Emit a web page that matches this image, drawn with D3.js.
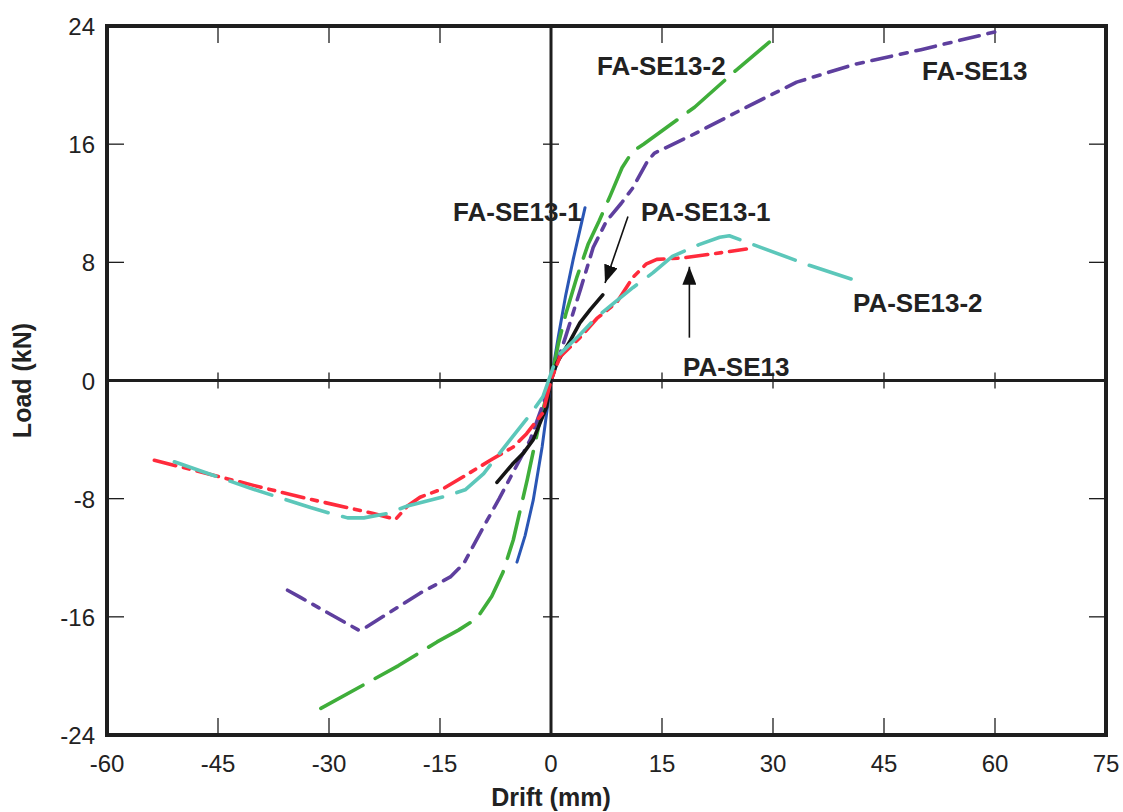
<!DOCTYPE html>
<html><head><meta charset="utf-8">
<script src="https://cdn.jsdelivr.net/npm/d3@7"></script>
<style>body{margin:0;background:#fff}svg{display:block}</style>
</head><body>
<svg id="c" width="1123" height="812"></svg>
<script>
const xTicks = [-60,-45,-30,-15,0,15,30,45,60,75];
const yTicks = [-24,-16,-8,0,8,16,24];

const faSe13_1 = [[-4.6,-12.3],[-3.5,-10.5],[-2.4,-8.1],[-1.2,-4.5],[0,0],[1,3],[2,5.8],[3,8.2],[4.6,11.7]];
const faSe13_2 = [[-31.1,-22.2],[-20.6,-19.3],[-15.4,-17.7],[-12.5,-16.9],[-10,-16.1],[-8,-14.6],[-6.5,-13],[-5.1,-10.8],[-3.2,-6.7],[-1.5,-2.7],[0,0],[1,2.5],[2,4.5],[3.5,7],[5,9.2],[6.5,10.8],[8,12.5],[9.6,14.4],[11,15.5],[12.5,16],[19.4,18.5],[25,21],[29.5,22.9]];
const faSe13 = [[-35.6,-14.2],[-33.8,-14.7],[-26,-16.9],[-25.3,-16.8],[-17.7,-14.4],[-13.6,-13.3],[-11.8,-12.4],[-9,-9.8],[-7,-8],[-5,-6.1],[-2.8,-4],[-1,-1.5],[0,0],[1,1.5],[2,3],[4,6.2],[5.7,9],[7.5,10.8],[9.5,12],[11,13],[13.1,14.9],[14,15.4],[19,16.6],[26,18.4],[33.2,20.2],[41,21.4],[50,22.4],[60,23.6]];
const paSe13_1 = [[-7.3,-6.9],[-5.1,-5.6],[-3.7,-4.9],[-2.4,-4],[-0.6,-1.8],[0,0],[0.8,1.2],[2.6,2.7],[3.9,3.9],[5.3,4.8],[7,5.8]];
const paSe13 = [[-53.6,-5.4],[-40.2,-7.1],[-32.9,-8],[-24,-9],[-21,-9.4],[-19.4,-8.5],[-17.7,-7.9],[-14.5,-7.3],[-11.8,-6.5],[-8.2,-5.4],[-5.1,-4.5],[-3.3,-3.6],[-1.1,-2.2],[0,0],[1.2,1.6],[3.9,2.9],[6.2,4.2],[8.9,5.3],[11.1,7],[12.9,7.9],[14.3,8.2],[17.8,8.3],[23.7,8.7],[26.4,8.9]];
const paSe13_2 = [[-50.9,-5.5],[-40.6,-7.3],[-32.5,-8.6],[-29.8,-9],[-27.5,-9.3],[-25.3,-9.3],[-22.1,-9],[-19.4,-8.5],[-14,-7.8],[-11.6,-7.4],[-9.1,-6.3],[-5.5,-4],[-2.8,-2.3],[-1.1,-1.1],[0.8,1.6],[3.9,3.1],[6.2,4.3],[8.4,5.2],[11.1,6.3],[13.8,7.3],[16.4,8.4],[20,9.2],[22.8,9.7],[24.1,9.8],[26.8,9.3],[34.9,7.8],[41.6,6.7]];

const seriesNames = ["FA-SE13-1","FA-SE13-2","FA-SE13","PA-SE13-1","PA-SE13","PA-SE13-2"];
const seriesData = [faSe13_1, faSe13_2, faSe13, paSe13_1, paSe13, paSe13_2];
const seriesColors = ["#2a56b5","#3fae3a","#5e3f9e","#151515","#ff2b3c","#5cc7ba"];
const seriesDash = [null,"48,14","20,9,7,9",null,"22,8,6,8","44,15"];

const labels = [
  {t:"FA-SE13-2", x:597, y:75},
  {t:"FA-SE13", x:922, y:80},
  {t:"FA-SE13-1", x:453, y:221},
  {t:"PA-SE13-1", x:641, y:221},
  {t:"PA-SE13-2", x:853, y:312},
  {t:"PA-SE13", x:683, y:376}
];
const arrows = [
  {from:[10.4,11.1], to:[7.3,6.6]},
  {from:[18.7,2.9], to:[18.7,7.7]}
];

const svg = d3.select("#c");
const L=107, R=1106, T=26, B=735;
const x = d3.scaleLinear().domain([-60,75]).range([L,R]);
const y = d3.scaleLinear().domain([-24,24]).range([B,T]);
const ink = "#1e1e1e";

const g = svg.append("g");
xTicks.slice(1,-1).forEach(v=>{
  g.append("line").attr("x1",x(v)).attr("x2",x(v)).attr("y1",B).attr("y2",B-17).attr("stroke",ink).attr("stroke-width",1.3);
  g.append("line").attr("x1",x(v)).attr("x2",x(v)).attr("y1",T).attr("y2",T+17).attr("stroke",ink).attr("stroke-width",1.3);
  if(v!==0) g.append("line").attr("x1",x(v)).attr("x2",x(v)).attr("y1",y(0)-8).attr("y2",y(0)+8).attr("stroke",ink).attr("stroke-width",1.3);
});
yTicks.slice(1,-1).forEach(v=>{
  g.append("line").attr("x1",L).attr("x2",L+17).attr("y1",y(v)).attr("y2",y(v)).attr("stroke",ink).attr("stroke-width",1.3);
  g.append("line").attr("x1",R).attr("x2",R-17).attr("y1",y(v)).attr("y2",y(v)).attr("stroke",ink).attr("stroke-width",1.3);
  if(v!==0) g.append("line").attr("x1",x(0)-8).attr("x2",x(0)+8).attr("y1",y(v)).attr("y2",y(v)).attr("stroke",ink).attr("stroke-width",1.3);
});
g.append("line").attr("x1",L).attr("x2",R).attr("y1",y(0)).attr("y2",y(0)).attr("stroke",ink).attr("stroke-width",3);
g.append("line").attr("x1",x(0)).attr("x2",x(0)).attr("y1",T).attr("y2",B).attr("stroke",ink).attr("stroke-width",3);

svg.append("g").selectAll("text").data(xTicks).join("text")
  .attr("x",d=>x(d)).attr("y",772).attr("text-anchor","middle")
  .attr("font-family","Liberation Sans, Arial, sans-serif").attr("font-size",24).attr("fill","#222").text(d=>d);
svg.append("g").selectAll("text").data(yTicks).join("text")
  .attr("x",95).attr("y",d=>y(d)+9).attr("text-anchor","end")
  .attr("font-family","Liberation Sans, Arial, sans-serif").attr("font-size",24).attr("fill","#222").text(d=>d);

svg.append("text").attr("x",x(0)).attr("y",806).attr("text-anchor","middle")
  .attr("font-family","Liberation Sans, Arial, sans-serif").attr("font-weight","bold").attr("font-size",25).attr("fill","#222").text("Drift (mm)");
svg.append("text").attr("transform",`translate(31,${y(0)}) rotate(-90)`).attr("text-anchor","middle")
  .attr("font-family","Liberation Sans, Arial, sans-serif").attr("font-weight","bold").attr("font-size",25).attr("fill","#222").text("Load (kN)");

const line = d3.line().x(d=>x(d[0])).y(d=>y(d[1])).curve(d3.curveLinear);
seriesData.forEach((d,i)=>{
  const p = svg.append("path").attr("d",line(d)).attr("fill","none")
    .attr("stroke",seriesColors[i]).attr("stroke-width",i===0?3:3.6)
    .attr("stroke-linecap","round").attr("stroke-linejoin","round");
  if(seriesDash[i]) p.attr("stroke-dasharray",seriesDash[i]);
});

const defs = svg.append("defs");
defs.append("marker").attr("id","ah").attr("viewBox","0 0 18 14").attr("refX",18).attr("refY",7)
  .attr("markerWidth",18).attr("markerHeight",14).attr("markerUnits","userSpaceOnUse").attr("orient","auto")
  .append("path").attr("d","M0,0 L18,7 L0,14 Z").attr("fill","#111");
arrows.forEach(a=>{
  svg.append("line").attr("x1",x(a.from[0])).attr("y1",y(a.from[1])).attr("x2",x(a.to[0])).attr("y2",y(a.to[1]))
    .attr("stroke","#111").attr("stroke-width",1.6).attr("marker-end","url(#ah)");
});

svg.append("g").selectAll("text").data(labels).join("text")
  .attr("x",d=>d.x).attr("y",d=>d.y)
  .attr("font-family","Liberation Sans, Arial, sans-serif").attr("font-weight","bold").attr("font-size",26).attr("fill","#222")
  .text(d=>d.t);

svg.append("rect").attr("x",L).attr("y",T).attr("width",R-L).attr("height",B-T)
  .attr("fill","none").attr("stroke",ink).attr("stroke-width",4);
</script>
</body></html>
